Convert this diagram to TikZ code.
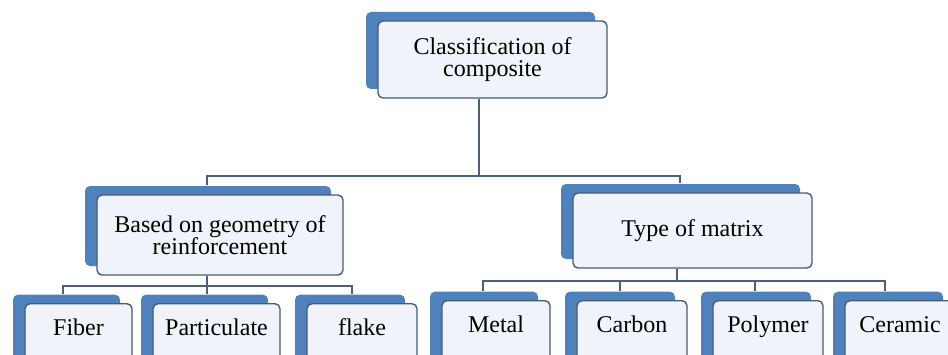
\documentclass[tikz,border=0pt]{standalone}
\usepackage{fontspec}
\setmainfont{Liberation Serif}
\usetikzlibrary{shadows}
\definecolor{boxblue}{RGB}{79,129,189}
\definecolor{boxline}{RGB}{72,92,118}
\definecolor{boxfill}{RGB}{240,243,249}
\definecolor{linkcol}{RGB}{74,96,124}
\tikzset{
  cls/.style={draw=boxline,line width=1.4pt,rounded corners=5pt,fill=boxfill,align=center,
    font=\fontsize{24}{22.5}\selectfont,inner sep=0pt,
    general shadow={fill=boxblue,shadow xshift=-12pt,shadow yshift=9pt}},
  leaf/.style={cls,anchor=north,minimum width=108pt,minimum height=70pt,text height=15pt,text depth=21pt},
  link/.style={draw=linkcol,line width=2pt},
}
\begin{document}
\begin{tikzpicture}[x=1pt,y=1pt]
  \useasboundingbox (0,0) rectangle (948,354);
  \clip (0,0) rectangle (948,354);
  % top level
  \node[cls,minimum width=229pt,minimum height=77pt] (root) at (492.5,294.5) {Classification of\\composite};
  % second level
  \node[cls,minimum width=246pt,minimum height=80pt] (geo) at (220,119) {Based on geometry of\\reinforcement};
  \node[cls,minimum width=239pt,minimum height=75pt] (mat) at (692.5,123.5) {Type of matrix};
  % leaves
  \node[leaf,minimum width=107pt] (fiber) at (78.5,51) {Fiber};
  \node[leaf,minimum width=127pt] (part) at (216.5,51) {Particulate};
  \node[leaf,minimum width=110pt] (flake) at (362,51) {flake};
  \node[leaf] (metal) at (496,54) {Metal};
  \node[leaf,minimum width=110pt] (carbon) at (632,54) {Carbon};
  \node[leaf,minimum width=110pt] (poly) at (768,54) {Polymer};
  \node[leaf,minimum width=110pt] (ceram) at (900,54) {Ceramic};
  % connectors
  \draw[link] ([xshift=-13.5pt]root.south) -- ++(0,-77) coordinate (rootbar);
  \draw[link] ([shift={(-13pt,9pt)}]geo.north) |- (rootbar) -| ([shift={(-12.5pt,9pt)}]mat.north);
  \draw[link] ([xshift=-13pt]geo.south) -- ++(0,-10) coordinate (geobar);
  \draw[link] ([shift={(-15.5pt,9pt)}]fiber.north) |- (geobar) -| ([shift={(-9.5pt,9pt)}]part.north);
  \draw[link] (geobar) -| ([shift={(-10pt,9pt)}]flake.north);
  \draw[link] ([xshift=-15.5pt]mat.south) -- ++(0,-12) coordinate (matbar);
  \draw[link] ([shift={(-13pt,9pt)}]metal.north) |- (matbar) -| ([shift={(-15pt,9pt)}]ceram.north);
  \draw[link] ([shift={(-12pt,9pt)}]carbon.north) |- (matbar);
  \draw[link] ([shift={(-13pt,9pt)}]poly.north) |- (matbar);
\end{tikzpicture}
\end{document}
